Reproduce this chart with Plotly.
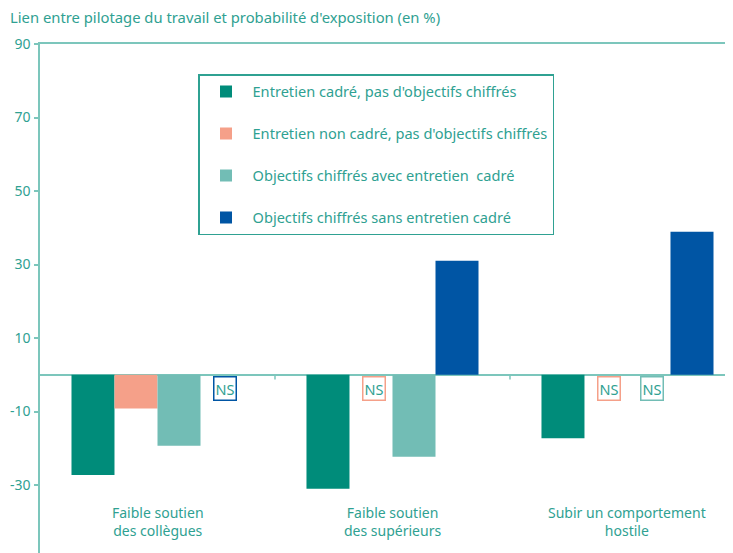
import plotly.graph_objects as go

categories = ["Faible soutien<br>des collègues",
              "Faible soutien<br>des supérieurs",
              "Subir un comportement<br>hostile"]

series_names = ["Entretien cadré, pas d'objectifs chiffrés",
                "Entretien non cadré, pas d'objectifs chiffrés",
                "Objectifs chiffrés avec entretien  cadré",
                "Objectifs chiffrés sans entretien cadré"]

entretien_cadre = [-27.3, -31.0, -17.3]
entretien_non_cadre = [-9.2, None, None]
objectifs_avec = [-19.3, -22.3, None]
objectifs_sans = [None, 31.0, 38.9]

y_ticks = [-50, -30, -10, 10, 30, 50, 70, 90]
y_ticktext = ["-50", "-30", "-10", "10", "30", "50", "70", "90"]

colors = ["#008C7A", "#F5A089", "#72BDB5", "#0055A4"]
text_color = "#2FA192"
line_color = "#7CC6BC"
font_family = "Noto Sans, Open Sans, sans-serif"

values = [entretien_cadre, entretien_non_cadre, objectifs_avec, objectifs_sans]
bargap = 0.268

fig = go.Figure()
for i, (name, vals) in enumerate(zip(series_names, values)):
    fig.add_trace(go.Bar(x=list(range(len(categories))), y=vals, name=name,
                         marker=dict(color=colors[i], line=dict(width=0)),
                         legendgroup=str(i)))

# "NS" boxes for non-significant values
bar_w = (1 - bargap) / len(values)
annotations = []
for i, vals in enumerate(values):
    for j, v in enumerate(vals):
        if v is None:
            annotations.append(dict(
                x=j + (i - 1.5) * bar_w, y=0, xref="x", yref="y",
                text="NS", showarrow=False, yanchor="top", yshift=-1, xshift=3,
                font=dict(size=14.5, color=text_color, family=font_family),
                bordercolor=colors[i], borderwidth=1.5, borderpad=1,
                bgcolor="white"))

for j, cat in enumerate(categories):
    annotations.append(dict(
        x=j, y=-40, xref="x", yref="y", text=cat, showarrow=False,
        font=dict(size=14, color=text_color, family=font_family)))

shapes = [dict(type="line", xref="x", yref="y", x0=b, x1=b, y0=0, y1=-1.3,
               line=dict(color=line_color, width=1.5)) for b in (0.5, 1.5)]

# page body has an 8px margin, so the figure is 725x545 and sits at (8, 8)
W, H = 725, 545
fig.update_layout(
    width=W, height=H,
    margin=dict(l=32, r=0, t=35.5, b=0, autoexpand=False),
    barmode="group", bargap=bargap, bargroupgap=0,
    plot_bgcolor="white", paper_bgcolor="white",
    font=dict(family=font_family, color=text_color, size=13),
    title=dict(text="Lien entre pilotage du travail et probabilité d'exposition (en %)",
               x=2 / W, xref="container", xanchor="left", y=1 - 10 / H, yanchor="middle",
               font=dict(size=14.8, color=text_color, family=font_family)),
    showlegend=True,
    legend=dict(x=0.228, y=0.941, xanchor="left", yanchor="top",
                bordercolor=text_color, borderwidth=1.5, bgcolor="white",
                traceorder="grouped", tracegroupgap=20, itemwidth=43,
                font=dict(size=14.6, color=text_color, family=font_family)),
    annotations=annotations,
    shapes=shapes,
)
fig.update_xaxes(range=[-0.5, 2.449], side="top", showline=True, automargin=False,
                 linecolor=line_color, linewidth=1.5, showticklabels=False,
                 ticks="", showgrid=False, zeroline=False)
fig.update_yaxes(range=[-48.5, 90], tickvals=y_ticks, ticktext=y_ticktext,
                 showline=True, linecolor=line_color, linewidth=1.5, automargin=False,
                 ticks="outside", ticklen=4, tickcolor=line_color, tickwidth=1.5,
                 ticklabelstandoff=1,
                 tickfont=dict(size=14, color=text_color, family=font_family),
                 showgrid=False, zeroline=True, zerolinecolor=line_color,
                 zerolinewidth=1.5)

fig.write_html("out.html")
